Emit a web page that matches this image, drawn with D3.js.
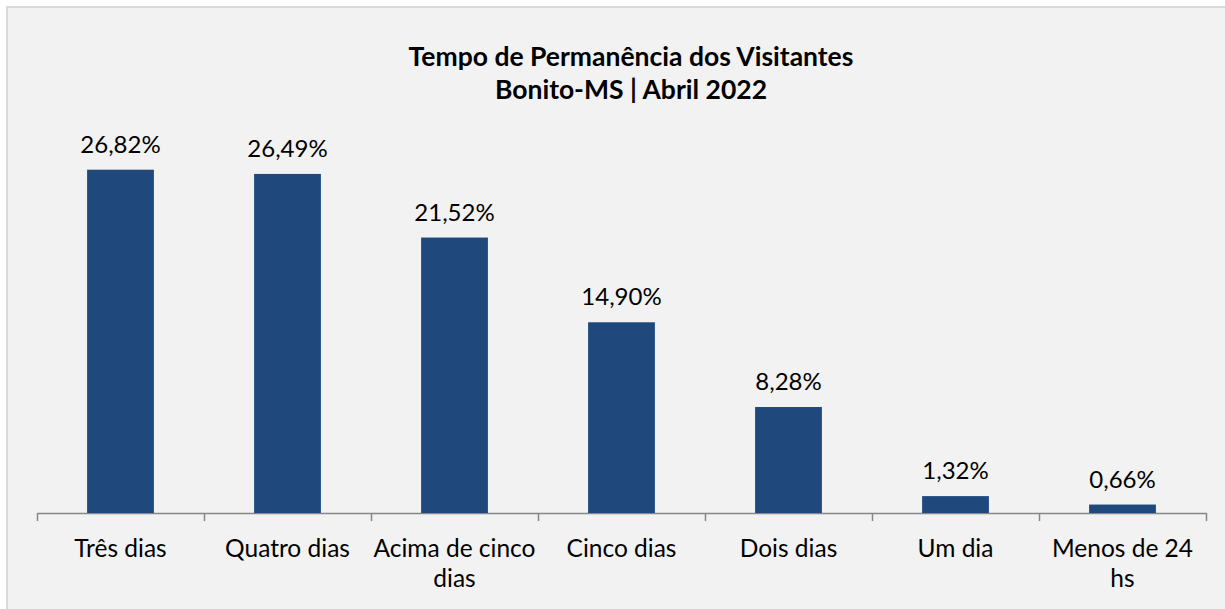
<!DOCTYPE html>
<html>
<head>
<meta charset="utf-8">
<script src="https://cdn.jsdelivr.net/npm/d3@7"></script>
<style>
  body { margin: 0; background: #fff; }
  svg { display: block; font-family: Lato, "Noto Sans", sans-serif; }
</style>
</head>
<body>
<svg id="chart"></svg>
<script>
// dados
const categories = ['Três dias', 'Quatro dias', 'Acima de cinco dias', 'Cinco dias', 'Dois dias', 'Um dia', 'Menos de 24 hs'];
const values = [26.82, 26.49, 21.52, 14.90, 8.28, 1.32, 0.66];
const tickLabels = [['Três dias'], ['Quatro dias'], ['Acima de cinco', 'dias'], ['Cinco dias'], ['Dois dias'], ['Um dia'], ['Menos de 24', 'hs']];
const titleLines = ['Tempo de Permanência dos Visitantes', 'Bonito-MS | Abril 2022'];

const width = 1225;
const height = 609;
const margin = { top: 129, right: 19, bottom: 96, left: 37 };

const svg = d3.select('#chart')
    .attr('width', width)
    .attr('height', height);

// fundo / moldura
svg.append('rect')
    .attr('x', 7).attr('y', 7)
    .attr('width', width + 10).attr('height', height + 10)
    .attr('fill', '#f2f2f2')
    .attr('stroke', '#d9d9d9')
    .attr('stroke-width', 2);

const x = d3.scaleBand()
    .domain(categories)
    .range([margin.left, width - margin.right])
    .paddingInner(0.6)
    .paddingOuter(0.3);

const y = d3.scaleLinear()
    .domain([0, 30])
    .range([height - margin.bottom, margin.top]);

// eixo com marcas entre as categorias
const xEdge = d3.scaleLinear()
    .domain([0, categories.length])
    .range([margin.left, width - margin.right]);

const axis = svg.append('g')
    .attr('transform', `translate(0,${y(0)})`)
    .call(d3.axisBottom(xEdge)
        .tickValues(d3.range(categories.length + 1))
        .tickSize(8)
        .tickSizeOuter(0)
        .tickFormat(''));
axis.selectAll('path, line').attr('stroke', '#868686').attr('stroke-width', 1.5);

svg.selectAll('.bar')
    .data(values)
    .join('rect')
    .attr('class', 'bar')
    .attr('x', (d, i) => x(categories[i]))
    .attr('width', x.bandwidth())
    .attr('y', d => y(d))
    .attr('height', d => y(0) - y(d))
    .attr('fill', '#1f497d');

const fmt = v => v.toFixed(2).replace('.', ',') + '%';

svg.selectAll('.value')
    .data(values)
    .join('text')
    .attr('class', 'value')
    .attr('x', (d, i) => x(categories[i]) + x.bandwidth() / 2)
    .attr('y', d => y(d) - 17)
    .attr('text-anchor', 'middle')
    .attr('font-size', 24)
    .attr('fill', '#000')
    .text(fmt);

// rótulos das categorias
const labels = svg.selectAll('.cat')
    .data(tickLabels)
    .join('text')
    .attr('class', 'cat')
    .attr('text-anchor', 'middle')
    .attr('font-size', 24.5)
    .attr('fill', '#000');

labels.selectAll('tspan')
    .data((d, i) => d.map(t => ({ t, i })))
    .join('tspan')
    .attr('x', d => x(categories[d.i]) + x.bandwidth() / 2)
    .attr('y', (d, j) => 557 + j * 30)
    .text(d => d.t);

// título
svg.append('text')
    .attr('text-anchor', 'middle')
    .attr('font-size', 26.5)
    .attr('font-weight', 'bold')
    .attr('fill', '#000')
    .selectAll('tspan')
    .data(titleLines)
    .join('tspan')
    .attr('x', 631)
    .attr('y', (d, i) => 66 + i * 33)
    .text(d => d);
</script>
</body>
</html>
